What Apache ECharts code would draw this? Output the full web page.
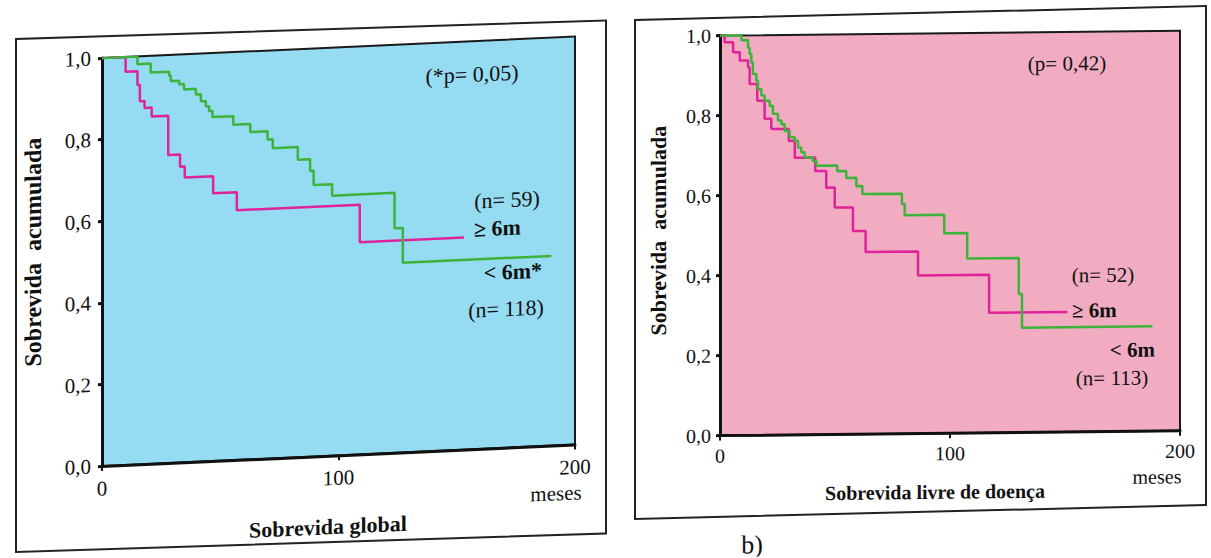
<!doctype html>
<html lang="pt">
<head>
<meta charset="UTF-8">
<title>Sobrevida acumulada</title>
<script src="https://cdn.jsdelivr.net/npm/echarts@6.0.0/dist/echarts.min.js"></script>
<style>
    html, body {margin: 0; padding: 0; background: #fff; overflow: hidden;}
    body {width: 1211px; height: 558px; position: relative;}
    .frame {position: absolute; box-sizing: border-box; border: 2px solid #222; transform-origin: 0 0;}
    .chart {position: absolute; transform-origin: 0 0;}
</style>
</head>
<body>
<div class="frame" style="left:15px;top:38px;width:592px;height:515px;transform:skewY(-1.8deg)"></div>
<div class="frame" style="left:634px;top:19px;width:573px;height:501px;transform:skewY(-1.4deg)"></div>
<div class="chart" id="chartA" style="left:15px;top:38px;width:600px;height:520px;transform:skewY(-2.6deg)"></div>
<div class="chart" id="chartB" style="left:635px;top:18px;width:576px;height:540px;transform:skewY(-0.6deg)"></div>
<script type="text/javascript">
    // eixos
    var xTicks = [0, 100, 200];
    var yTicks = [0, 0.2, 0.4, 0.6, 0.8, 1.0];

    // a) Sobrevida global
    var globalMaiorMeses = [0, 10, 15, 16, 18, 21, 28, 33, 35, 47, 57, 109, 153];
    var globalMaiorValores = [1.0, 0.964, 0.93, 0.89, 0.873, 0.851, 0.755, 0.725, 0.698, 0.656, 0.612, 0.52, 0.52];
    var globalMenorMeses = [0, 15, 20.6, 28.4, 29.1, 32.6, 34.7, 39.7, 41.8, 43.9, 45.3, 46.7, 55.5, 62.7, 70, 72.2, 82.8, 88, 89.5, 97.3, 123.7, 127.2, 190];
    var globalMenorValores = [1.0, 0.981, 0.959, 0.949, 0.936, 0.927, 0.914, 0.9, 0.883, 0.87, 0.858, 0.843, 0.822, 0.802, 0.782, 0.76, 0.729, 0.7, 0.665, 0.637, 0.55, 0.465, 0.465];

    // b) Sobrevida livre de doença
    var livreMaiorMeses = [0, 2, 5.7, 8.6, 12.2, 12.9, 16.2, 19.4, 22.3, 29.9, 32.5, 41.4, 46.2, 49.9, 57.8, 63.3, 86.1, 117, 151];
    var livreMaiorValores = [1.0, 0.983, 0.958, 0.937, 0.92, 0.878, 0.836, 0.791, 0.765, 0.735, 0.693, 0.659, 0.617, 0.567, 0.508, 0.455, 0.395, 0.3, 0.3];
    var livreMenorMeses = [0, 9.3, 12.2, 12.9, 13.6, 14.3, 15.8, 16.5, 18, 19.4, 21.6, 23, 25.2, 26.7, 28.1, 30.3, 32.5, 33.9, 35.3, 36.8, 40.4, 41.9, 51, 54.9, 59.3, 61.9, 79.1, 80.3, 97.5, 107.5, 129.9, 131.3, 188];
    var livreMenorValores = [1.0, 0.988, 0.969, 0.953, 0.932, 0.903, 0.886, 0.865, 0.849, 0.836, 0.823, 0.803, 0.786, 0.777, 0.76, 0.744, 0.735, 0.718, 0.706, 0.693, 0.684, 0.672, 0.658, 0.641, 0.62, 0.6, 0.574, 0.546, 0.5, 0.436, 0.346, 0.262, 0.262];

    var serif = 'Liberation Serif';
    var corMaior = '#e0239b';
    var corMenor = '#3cb43a';

    function pares(meses, valores) {
        var out = [];
        for (var i = 0; i < meses.length; i++) {
            out.push([meses[i], valores[i]]);
        }
        return out;
    }

    function texto(t, x, y, size, bold, align, rot) {
        return {
            type: 'text', x: x, y: y, rotation: rot || 0, z: 100,
            style: {
                text: t, fill: '#111', fontFamily: serif, fontSize: size,
                fontWeight: bold ? 'bold' : 'normal',
                align: align || 'center', verticalAlign: 'middle'
            }
        };
    }

    function montar(p) {
        return {
            animation: false,
            textStyle: {fontFamily: serif},
            grid: {
                left: p.left, top: p.top, width: p.width, height: p.height,
                show: true, backgroundColor: p.fundo, borderColor: '#1a1a1a', borderWidth: 2,
                outerBoundsMode: 'none'
            },
            xAxis: {
                type: 'value', min: xTicks[0], max: xTicks[xTicks.length - 1], interval: 100,
                axisLine: {show: true, lineStyle: {color: '#111', width: 3}},
                axisTick: {show: true, length: 5, lineStyle: {color: '#111', width: 2}},
                axisLabel: {color: '#111', fontFamily: serif, fontSize: p.fs, margin: p.xMargin},
                splitLine: {show: false}
            },
            yAxis: {
                type: 'value', min: yTicks[0], max: yTicks[yTicks.length - 1], interval: 0.2,
                axisLine: {show: true, lineStyle: {color: '#111', width: 3}},
                axisTick: {show: true, length: 4, lineStyle: {color: '#111', width: 3}},
                axisLabel: {
                    color: '#111', fontFamily: serif, fontSize: p.fs, margin: p.yMargin,
                    formatter: function (v) { return v.toFixed(1).replace('.', ','); }
                },
                splitLine: {show: false}
            },
            series: [
                {
                    type: 'line', step: 'end', showSymbol: false, data: p.maior,
                    lineStyle: {color: corMaior, width: 2.5}
                },
                {
                    type: 'line', step: 'end', showSymbol: false, data: p.menor,
                    lineStyle: {color: corMenor, width: 2.5}
                }
            ],
            graphic: p.textos
        };
    }

    var chartA = echarts.init(document.getElementById('chartA'), null, {renderer: 'svg'});
    chartA.setOption(montar({
        left: 87, top: 24, width: 473, height: 408, fundo: '#95dbf1', fs: 21, xMargin: 12, yMargin: 11,
        maior: pares(globalMaiorMeses, globalMaiorValores),
        menor: pares(globalMenorMeses, globalMenorValores),
        textos: [
            texto('(*p= 0,05)', 457, 57, 22, false),
            texto('(n= 59)', 492, 184, 22, false),
            texto('\u2265 6m', 459, 212, 22, true, 'left'),
            texto('< 6m*', 527, 256, 22, true, 'right'),
            texto('(n= 118)', 491, 293, 22, false),
            texto('meses', 541, 480, 21, false),
            texto('Sobrevida global', 313, 503, 22, true),
            texto('Sobrevida  acumulada', 18, 215, 24, true, 'center', Math.PI / 2)
        ]
    }));

    var chartB = echarts.init(document.getElementById('chartB'), null, {renderer: 'svg'});
    chartB.setOption(montar({
        left: 85, top: 18.5, width: 460, height: 400, fundo: '#f1acc1', fs: 20, xMargin: 10, yMargin: 9,
        maior: pares(livreMaiorMeses, livreMaiorValores),
        menor: pares(livreMenorMeses, livreMenorValores),
        textos: [
            texto('(p= 0,42)', 432, 50, 21, false),
            texto('(n= 52)', 468, 262, 21, false),
            texto('\u2265 6m', 437, 297, 21, true, 'left'),
            texto('< 6m', 520, 337, 21, true, 'right'),
            texto('(n= 113)', 477, 365, 21, false),
            texto('meses', 522, 464, 20, false),
            texto('Sobrevida livre de doen\u00e7a', 300, 477, 20, true),
            texto('Sobrevida  acumulada', 24, 213, 22, true, 'center', Math.PI / 2),
            texto('b)', 117, 528, 26, false)
        ]
    }));
</script>
</body>
</html>
